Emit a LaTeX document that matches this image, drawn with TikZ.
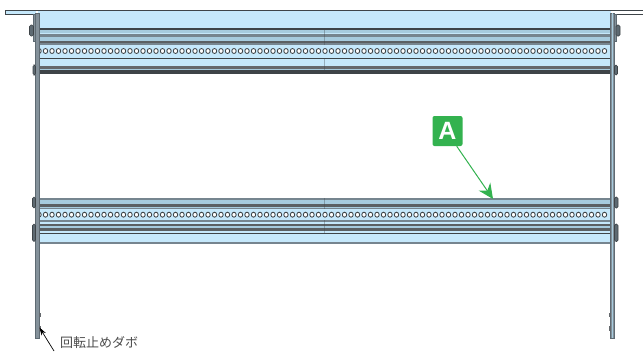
\documentclass[tikz,border=0pt]{standalone}
\usepackage{fontspec}
\newfontfamily\cjk{Noto Sans CJK JP}
\setsansfont{Liberation Sans}
\usetikzlibrary{arrows.meta}
\definecolor{paleblue}{HTML}{C5E8FB}
\definecolor{midblue}{HTML}{A6CBDE}
\definecolor{railgrey}{HTML}{76858F}
\definecolor{raildark}{HTML}{3E4448}
\definecolor{markgreen}{HTML}{33B24F}
\tikzset{
  bolt/.style={fill=railgrey!80!black, draw=raildark, line width=0.7pt, rounded corners=1.5pt},
  post/.style={fill=railgrey!90, draw=railgrey!80!black, line width=0.4pt},
  hole/.style={fill=white, draw=raildark, line width=0.85pt},
  markbox/.style={fill=markgreen, rounded corners=2pt, minimum width=30pt, minimum height=30pt, inner sep=0pt, text=white, font=\sffamily\bfseries\fontsize{25}{25}\selectfont},
  notetext/.style={text=black!70, inner sep=0pt, anchor=west, font=\cjk\fontsize{13}{13}\selectfont}
}
\begin{document}
\begin{tikzpicture}[x=1pt, y=-1pt]
    \useasboundingbox (0,0) rectangle (643,351);
    % upper rail
    \fill[paleblue] (38,11) rectangle (611,66);
    \fill[raildark] (38,28) rectangle (611,30);
    \fill[midblue] (38,30) rectangle (611,33);
    \fill[railgrey] (38,34) rectangle (611,36.5);
    \fill[midblue] (38,36.5) rectangle (611,41);
    \fill[raildark!85] (38,41) rectangle (611,42.5);
    \fill[railgrey] (38,42.5) rectangle (611,45);
    \fill[raildark] (38,57.5) rectangle (611,58.8);
    \fill[raildark!80] (38,65.5) rectangle (611,68.5);
    \fill[midblue] (38,68.5) rectangle (611,70);
    \fill[raildark] (38,70) rectangle (611,74);
    % lower rail
    \fill[paleblue] (38,198) rectangle (611,241.5);
    \fill[railgrey] (38,198) rectangle (611,200);
    \fill[midblue] (38,200) rectangle (611,204);
    \fill[raildark!85] (38,204) rectangle (611,206.5);
    \fill[midblue] (38,206.5) rectangle (611,208);
    \fill[railgrey] (38,208) rectangle (611,209);
    \fill[railgrey] (38,220) rectangle (611,221.5);
    \fill[raildark!85] (38,224) rectangle (611,225.5);
    \fill[midblue] (38,225.5) rectangle (611,227.5);
    \fill[raildark!85] (38,227.5) rectangle (611,231);
    \fill[raildark] (38,232.7) rectangle (611,234);
    \fill[railgrey] (38,241.5) rectangle (611,243.5);
    % holes
    \foreach \i in {0,...,87} {
        \draw[hole] (39+6.5*\i,51) ellipse (2.2pt and 2.5pt);
        \draw[hole] (39+6.5*\i,214.7) ellipse (2.2pt and 2.5pt);
    }
    \draw[raildark, opacity=0.35, line width=1pt] (324.5,28) -- (324.5,45);
    \draw[raildark, opacity=0.35, line width=1pt] (324.5,58) -- (324.5,74);
    \draw[raildark, opacity=0.35, line width=1pt] (324.5,198) -- (324.5,209);
    \draw[raildark, opacity=0.35, line width=1pt] (324.5,220) -- (324.5,234);
    % flanges
    \fill[paleblue] (5,10.5) rectangle (36,14.5);
    \draw[raildark, line width=0.7pt] (5,14.5) -- (5,10.5) -- (643,10.5);
    \draw[raildark, line width=0.7pt] (5,14.5) -- (35,14.5);
    \draw[raildark, line width=0.7pt] (614,14.5) -- (643,14.5);
    % posts
    \draw[post] (35.5,13) rectangle (39,338);
    \draw[post] (610.5,13) rectangle (614.5,338);
    \fill[midblue] (612,13) rectangle (613,338);
    \draw[post] (33.5,14.5) rectangle (35.5,41);
    \draw[post] (614.5,14.5) rectangle (616,41);
    % bolts
    \draw[bolt] (29.5,25) rectangle (33.5,36);
    \draw[bolt] (33,65) rectangle (35.5,75);
    \draw[bolt] (32.5,197) rectangle (35.5,208);
    \draw[bolt] (32.5,224) rectangle (35.5,241.5);
    \draw[bolt] (616,25) rectangle (620,36);
    \draw[bolt] (614.5,65) rectangle (617.5,75);
    \draw[bolt] (614.5,197) rectangle (618,208);
    \draw[bolt] (614.5,224) rectangle (618,241.5);
    % dowels
    \fill[raildark!80] (39,313) rectangle (40.5,317);
    \fill[raildark!80] (39,326) rectangle (40.5,331);
    \fill[raildark!80] (609,313) rectangle (610.5,317);
    \fill[raildark!80] (609,326) rectangle (610.5,331);
    % labels
    \node[markbox] (markA) at (447.5,131) {A};
    \coordinate (railA) at (493,199);
    \draw[markgreen, line width=1pt, -{Stealth[length=15pt, width=14pt, inset=5pt]}] (markA.south east) ++(-6,0) coordinate (markfoot) (markfoot) -- (railA);
    \node[notetext] (noteDowel) at (60,342.5) {回転止めダボ};
    \coordinate (dowelTip) at (39.5,327.5);
    \coordinate (dowelTail) at (54,351);
    \draw[black, line width=0.7pt, -{Stealth[length=8pt, width=5pt]}] (dowelTail) -- (dowelTip);
\end{tikzpicture}
\end{document}
